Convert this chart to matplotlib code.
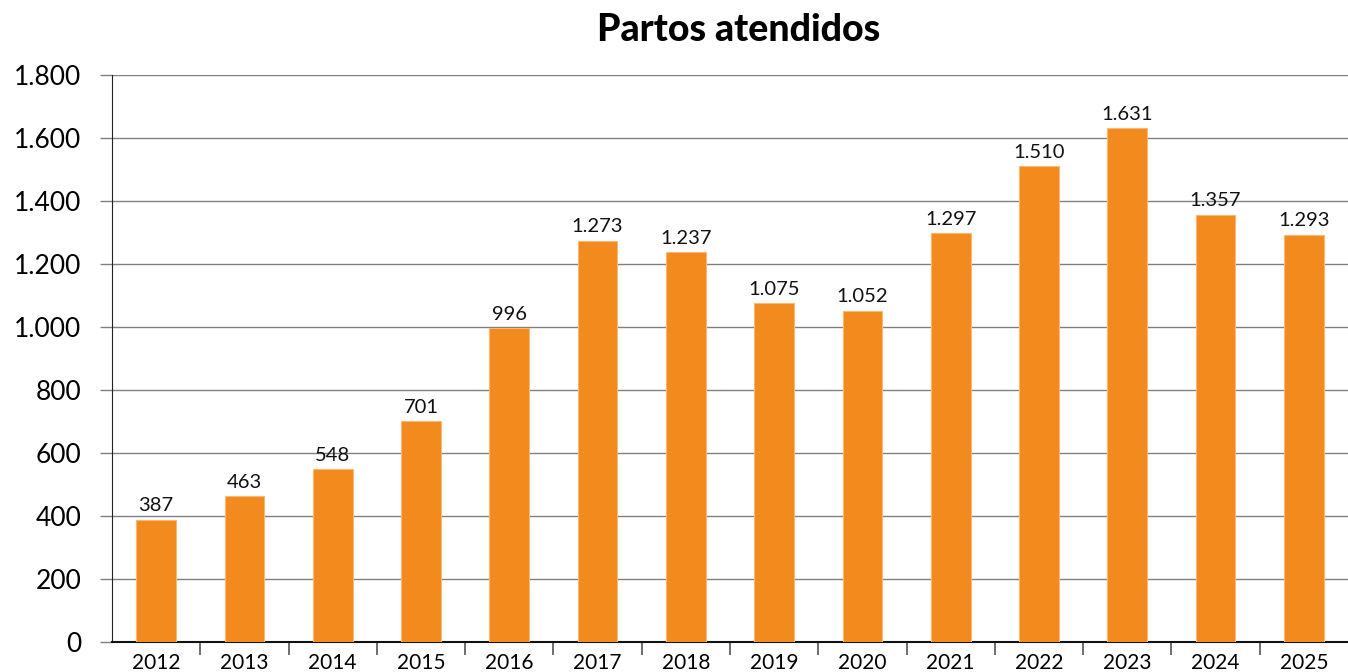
import numpy as np
import matplotlib.pyplot as plt
from matplotlib.ticker import FuncFormatter

years = ['2012', '2013', '2014', '2015', '2016', '2017', '2018',
         '2019', '2020', '2021', '2022', '2023', '2024', '2025']
partos = [387, 463, 548, 701, 996, 1273, 1237,
          1075, 1052, 1297, 1510, 1631, 1357, 1293]

def miles(v):
    return f'{int(v):,}'.replace(',', '.')

plt.rcParams['font.family'] = ['Lato', 'DejaVu Sans']

fig = plt.figure(figsize=(13.48, 6.72), dpi=100)
ax = fig.add_axes([0.0831, 0.0446, 0.9169, 0.8437])

x = np.arange(len(years))
bars = ax.bar(x, partos, width=0.45, color='#F28A1E', edgecolor='#F8B878',
              linewidth=0.8, zorder=3)

for xi, v in zip(x, partos):
    ax.text(xi, v + 18, miles(v), ha='center', va='bottom', fontsize=14.5, color='#111111')

ax.set_ylim(0, 1800)
ax.set_xlim(-0.5, len(years) - 0.5)
ax.set_yticks(np.arange(0, 1801, 200))
ax.yaxis.set_major_formatter(FuncFormatter(lambda v, p: miles(v)))
ax.grid(axis='y', color='#808080', linewidth=1, zorder=0)

# ticks between categories, labels at centers
ax.set_xticks(x[1:] - 0.5)
ax.set_xticklabels([])
ax.set_xticks(x, minor=True)
ax.set_xticklabels(years, minor=True, fontsize=15)
ax.tick_params(axis='x', which='major', length=9, width=1.2, color='#555555', direction='out')
ax.tick_params(axis='x', which='minor', length=0, pad=8)
ax.tick_params(axis='y', length=9, width=1, color='#808080', labelsize=19, pad=13)

for s in ['top', 'right']:
    ax.spines[s].set_visible(False)
ax.spines['left'].set_color('#222222')
ax.spines['bottom'].set_color('#111111')
ax.spines['bottom'].set_linewidth(1.5)

fig.text(0.548, 0.955, 'Partos atendidos', ha='center', va='center',
         fontsize=27, fontweight='black', color='#000000')

fig.savefig('out.png', dpi=100)
